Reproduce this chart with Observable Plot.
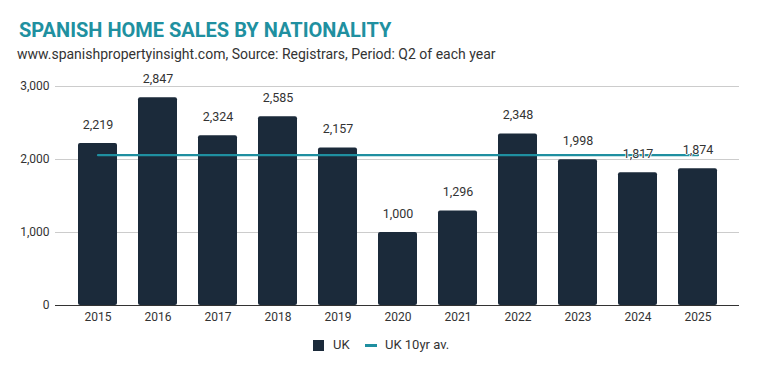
<!DOCTYPE html>
<html><head><meta charset="utf-8">
<script src="https://cdn.jsdelivr.net/npm/d3@7"></script>
<script src="https://cdn.jsdelivr.net/npm/@observablehq/plot@0.6"></script>
<style>
body{margin:0;background:#fff;font-family:Roboto,sans-serif;width:759px;height:371px;overflow:hidden}
#title{position:absolute;left:19px;top:18px;font-size:20px;font-weight:700;color:#2090a0;letter-spacing:0px}
#sub{position:absolute;left:17px;top:46px;font-size:14px;color:#333}
#chart{position:absolute;left:0;top:66px}
#legend{position:absolute;top:336px;left:0;width:759px;font-size:13px;color:#333}
.sw{position:absolute}
</style></head><body>
<div id="title">SPANISH HOME SALES BY NATIONALITY</div>
<div id="sub">www.spanishpropertyinsight.com, Source: Registrars, Period: Q2 of each year</div>
<div id="chart"></div>
<div id="legend">
<div class="sw" style="left:313px;top:4px;width:11px;height:11px;background:#1b2a3a"></div>
<div class="sw" style="left:333px;top:1px">UK</div>
<div class="sw" style="left:365px;top:8px;width:12px;height:3px;background:#1f8fa0"></div>
<div class="sw" style="left:385px;top:1px">UK 10yr av.</div>
</div>
<script>
const years = ["2015","2016","2017","2018","2019","2020","2021","2022","2023","2024","2025"];
const ukSales = [2219,2847,2324,2585,2157,1000,1296,2348,1998,1817,1874];
const ukAvg = [2059,2059,2059,2059,2059,2059,2059,2059,2059,2059,2059];
const yTicks = [0,1000,2000,3000];

const data = years.map((y,i)=>({year:y, v:ukSales[i], avg:ukAvg[i]}));
const fmt = d3.format(",");
const chart = Plot.plot({
  width:759, height:265,
  marginLeft:55, marginRight:20, marginTop:20, marginBottom:26,
  style:{fontFamily:"Roboto, sans-serif", fontSize:"12px", color:"#333"},
  x:{domain:years, paddingInner:0.354, paddingOuter:0.337, label:null, tickSize:0, tickPadding:7},
  y:{domain:[0,3000], ticks:yTicks, tickFormat:fmt, label:null, tickSize:0, tickPadding:6},
  marks:[
    Plot.gridY(yTicks,{stroke:"#ccc", strokeOpacity:1}),
    Plot.barY(data,{x:"year", y:"v", fill:"#1b2a3a", rx:2}),
    Plot.ruleY([0],{stroke:"#333"}),
    Plot.line(data,{x:"year", y:"avg", stroke:"#1f8fa0", strokeWidth:2.2}),
    Plot.text(data,{x:"year", y:"v", text:d=>fmt(d.v), dy:-19, fill:"#333", fontSize:12.5, stroke:"white", strokeWidth:1.5})
  ]
});
document.getElementById("chart").appendChild(chart);
</script>
</body></html>
